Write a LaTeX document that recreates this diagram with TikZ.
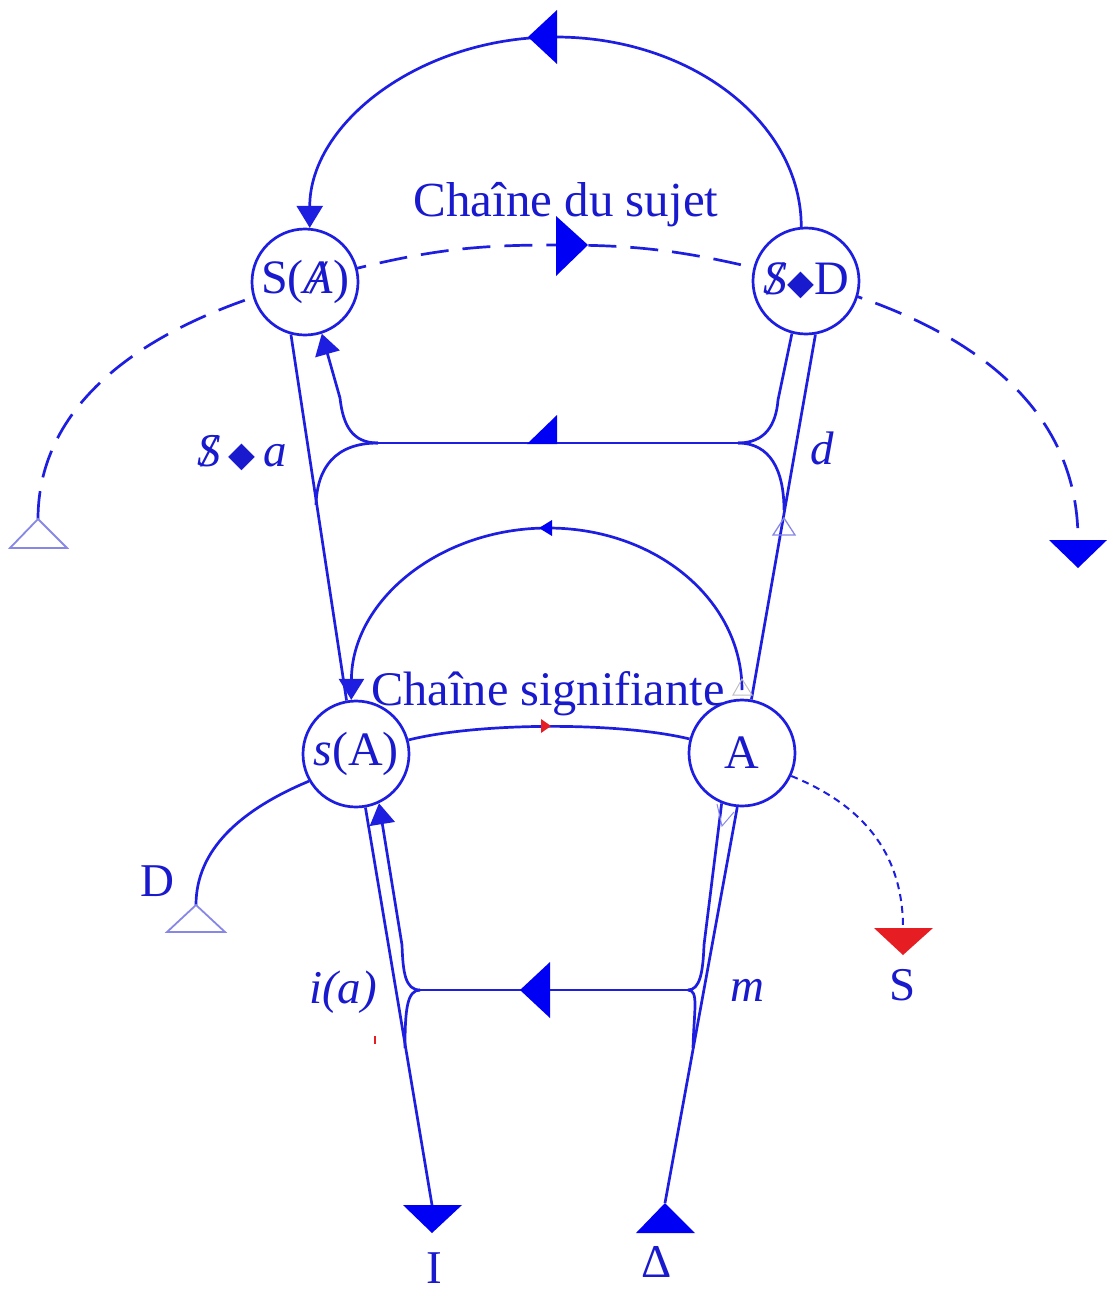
\documentclass[tikz,border=0pt]{standalone}
\usepackage{fontspec}
\setmainfont{Liberation Serif}
\newfontfamily\djv{DejaVu Sans}
\usetikzlibrary{arrows.meta,backgrounds}
\definecolor{lb}{RGB}{30,30,225}
\definecolor{fb}{RGB}{0,0,245}
\definecolor{tb}{RGB}{25,25,205}
\definecolor{rd}{RGB}{230,30,35}
\definecolor{ob}{RGB}{135,135,230}
\newcommand\barS{\ooalign{\itshape S\cr\hidewidth\itshape/\hidewidth\cr}}
\newcommand\barA{\ooalign{\itshape A\cr\hidewidth\itshape/\hidewidth\cr}}
\newcommand\poin{{\djv\fontsize{35}{35}\selectfont ◆}}
\begin{document}
\begin{tikzpicture}[x=1pt,y=-1pt,
  circ/.style={circle,draw=lb,fill=white,line width=2.7pt,minimum size=106pt,inner sep=0pt,text=tb,font=\fontsize{48}{52}\selectfont},
  lab/.style={text=tb,inner sep=0pt,anchor=base,font=\fontsize{47}{50}\selectfont},
  ttl/.style={text=tb,inner sep=0pt,anchor=base,font=\fontsize{49}{52}\selectfont},
  ttlb/.style={text=tb,inner sep=0pt,anchor=base,font=\fontsize{48.3}{52}\selectfont},
  wire/.style={draw=lb,line width=2.7pt},
  longdash/.style={dash pattern=on 28pt off 14pt},
  tipbig/.style={-{Triangle[length=22pt,width=26pt]}},
  tipmid/.style={-{Triangle[length=21pt,width=25pt]}},
  opentri/.style={draw=ob,line width=1.8pt,line join=miter}]
\useasboundingbox (0,0) rectangle (1112,1296);
% nodes
\node[circ] (SA) at (305,282) {S(\barA)};
\node[circ] (SD) at (806,281) {\barS\poin D};
\node[circ] (sA) at (356,754) {\textit{s}(A)};
\node[circ] (A)  at (742,753) {A};
% end coordinates
\coordinate (Ltri) at (38,519);
\coordinate (Rtri) at (1078,540);
\coordinate (Dtri) at (196,905);
\coordinate (Stri) at (903,928);
\coordinate (Itri) at (432,1205);
\coordinate (Deltri) at (665,1203);
\coordinate (top) at (555.5,37);
\coordinate (UL) at (378,443);
\coordinate (UR) at (738,443);
\coordinate (LL) at (420,990);
\coordinate (LR) at (688,990);
\coordinate (archR) at (742,690);
\coordinate (archT) at (548,528);
% labels
\node[ttl] (t1) at (566,216) {Chaîne du sujet};
\node[ttlb] (t2) at (548,705) {Chaîne signifiante};
\node[lab] (la) at (242,466) {\barS\,\poin\,\textit{a}};
\node[lab] (ld) at (822,464) {\textit{d}};
\node[lab] (li) at (343,1003) {\textit{i(a)}};
\node[lab] (lm) at (747,1001) {\textit{m}};
\node[lab] (lD) at (157,896) {D};
\node[lab] (lS) at (903,1000) {S};
\node[lab] (lI) at (434,1283) {I};
\node[lab] (lDel) at (657,1277) {Δ};
\begin{scope}[on background layer]
% top arc
\draw[wire,tipbig] (SD.95) .. controls +(0,-105) and +(135,0) .. (top)
   .. controls +(-135,0) and +(0,-105) .. (SA.85);
\fill[fb] (528,37) -- (557,10) -- (557,64) -- cycle;
% dashed chain of the subject
\draw[wire,longdash] (Ltri) .. controls (38,400) and (150,322) .. (SA.center)
   .. controls (420,250) and (470,245) .. (555,245)
   .. controls (640,245) and (690,250) .. (SD.center)
   .. controls (960,322) and (1078,400) .. (Rtri);
\fill[fb] (588,245) -- (556,216) -- (556,276) -- cycle;
\draw[opentri] (Ltri) -- (10,548) -- (67,548) -- cycle;
\fill[fb] (1049,540) -- (1107,540) -- (1078,568) -- cycle;
% upper section
\draw[wire] (UL) -- (UR);
\fill[fb] (527,444) -- (557,415) -- (557,444) -- cycle;
\draw[wire,tipmid] (UL) .. controls (352,443) and (343,425) .. (340,398) -- (SA.-72);
\draw[wire] (UR) .. controls (765,443) and (776,425) .. (778,400) -- (SD.-105);
\draw[wire] (UL) .. controls (335,443) and (317,468) .. (316,505);
\draw[wire] (UR) .. controls (770,443) and (784,470) .. (784,510);
\draw[wire] (SA.-105) -- (sA.100);
\draw[wire] (SD.-80) -- (A.80);
\draw[draw=ob,line width=1.3pt] (784,518) -- (773,535) -- (795,535) -- cycle;
% middle arch
\draw[wire,tipmid] (archR) .. controls (742,600) and (656,528) .. (archT)
   .. controls (440,528) and (352,600) .. (sA.95);
\fill[fb] (539,528) -- (552,520) -- (552,536) -- cycle;
\draw[draw=black!25,line width=1pt] (742,679) -- (733,695) -- (752,695) -- cycle;
% signifying chain
\draw[wire] (sA.15) .. controls (480,722) and (620,722) .. (A.165);
\fill[rd] (551,726) -- (541,719) -- (541,733) -- cycle;
% D branch
\draw[wire] (sA.-150) .. controls (240,810) and (196,850) .. (Dtri);
\draw[opentri] (Dtri) -- (167,932) -- (225,932) -- cycle;
% S branch
\draw[draw=lb,line width=2pt,dash pattern=on 7pt off 5pt] (A.-25) .. controls (870,808) and (903,860) .. (Stri);
\fill[rd] (874,928) -- (933,928) -- (903,955) -- cycle;
% lower section
\draw[wire] (LL) -- (LR);
\fill[fb] (520,990) -- (550,962) -- (550,1018) -- cycle;
\draw[wire,tipmid] (LL) .. controls (405,990) and (403,972) .. (402,945) -- (sA.-65);
\draw[wire] (LR) .. controls (700,990) and (703,972) .. (704,945) -- (A.-112);
\draw[wire] (LL) .. controls (407,990) and (405,1010) .. (405,1048);
\draw[wire] (LR) .. controls (699,990) and (694,1010) .. (693,1048);
\draw[wire] (sA.-80) -- (Itri);
\draw[wire] (A.-95) -- (Deltri);
\draw[draw=ob,line width=1pt] (717,804) -- (722,826) -- (734,812);
\fill[fb] (403,1205) -- (462,1205) -- (432,1233) -- cycle;
\fill[fb] (Deltri) -- (695,1233) -- (636,1233) -- cycle;
\draw[rd,line width=1.2pt] (375,1036) -- (375,1044);
\end{scope}
\end{tikzpicture}
\end{document}
